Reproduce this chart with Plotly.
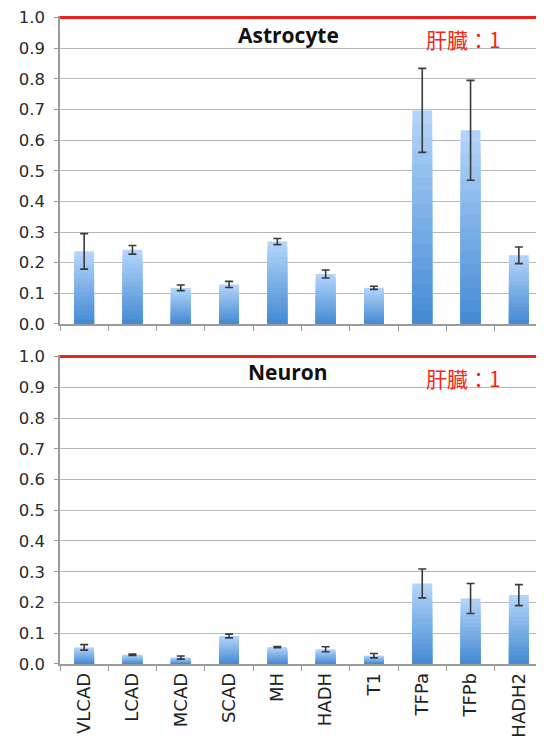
import plotly.graph_objects as go

categories = ["VLCAD", "LCAD", "MCAD", "SCAD", "MH", "HADH", "T1", "TFPa", "TFPb", "HADH2"]
astro_values = [0.237, 0.242, 0.118, 0.129, 0.269, 0.163, 0.118, 0.697, 0.632, 0.224]
astro_errors = [0.058, 0.014, 0.009, 0.010, 0.010, 0.013, 0.005, 0.137, 0.163, 0.027]
neuron_values = [0.054, 0.030, 0.021, 0.091, 0.055, 0.048, 0.027, 0.262, 0.213, 0.224]
neuron_errors = [0.009, 0.002, 0.005, 0.006, 0.002, 0.008, 0.007, 0.047, 0.049, 0.034]
reference_level = 1.0
yticks = [0.0, 0.1, 0.2, 0.3, 0.4, 0.5, 0.6, 0.7, 0.8, 0.9, 1.0]

fig = go.Figure()

N = 16
top_rgb = (178, 212, 250)
bot_rgb = (70, 140, 212)

def add_panel(values, errors, xa, ya):
    for k in range(N):
        frac = 1 - k / N
        t = k / (N - 1)
        c = tuple(int(round(top_rgb[i] + (bot_rgb[i] - top_rgb[i]) * t)) for i in range(3))
        fig.add_trace(go.Bar(
            x=categories, y=[v * frac for v in values],
            marker=dict(color="rgb(%d,%d,%d)" % c, line=dict(width=0)),
            width=0.41, xaxis=xa, yaxis=ya, showlegend=False, hoverinfo="skip"))
    fig.add_trace(go.Bar(
        x=categories, y=values, width=0.41,
        marker=dict(color="rgba(0,0,0,0)", line=dict(width=0)),
        error_y=dict(type="data", array=errors, color="#3a3a3a", thickness=1.6, width=4),
        xaxis=xa, yaxis=ya, showlegend=False))

add_panel(astro_values, astro_errors, "x", "y")
add_panel(neuron_values, neuron_errors, "x2", "y2")

axis_font = dict(family="DejaVu Sans, sans-serif", size=16.5, color="#2a2a2a")
common_y = dict(range=[0, 1.005], tickvals=yticks, ticktext=["%.1f" % v for v in yticks],
                showgrid=True, gridcolor="#b8b8b8", gridwidth=1, zeroline=False,
                showline=True, linecolor="#9a9a9a", linewidth=1.5, automargin=False,
                ticks="outside", ticklen=4, tickcolor="#9a9a9a", tickfont=axis_font,
                ticklabelstandoff=6, ticklabeloverflow="allow")
common_x = dict(type="category", showline=True, linecolor="#9a9a9a", linewidth=1.5,
                ticks="outside", ticklen=5, tickcolor="#9a9a9a", tickson="boundaries",
                showgrid=False, range=[-0.5, 9.5], automargin=False)

red_line = dict(color="#e8261c", width=3)

fig.update_layout(
    width=536, height=734,
    margin=dict(l=52, r=1, t=8, b=78),
    paper_bgcolor="white", plot_bgcolor="white",
    barmode="overlay",
    xaxis=dict(common_x, anchor="y", domain=[0, 1], showticklabels=False),
    yaxis=dict(common_y, domain=[0.5247, 1.0], anchor="x"),
    xaxis2=dict(common_x, anchor="y2", domain=[0, 1], showticklabels=True, tickangle=-90,
                tickfont=dict(family="DejaVu Sans, sans-serif", size=18, color="#222222")),
    yaxis2=dict(common_y, domain=[0.0, 0.4769], anchor="x2"),
    annotations=[
        dict(text="<b>Astrocyte</b>", xref="paper", yref="paper", x=0.473, y=0.9707,
             xanchor="center", yanchor="middle",
             showarrow=False, font=dict(family="Open Sans, sans-serif", size=21, color="#111111")),
        dict(text="肝臓：1", xref="paper", yref="paper", x=0.836, y=0.9645,
             xanchor="center", yanchor="middle",
             showarrow=False, font=dict(family="Noto Sans CJK JP, sans-serif", size=21, color="#f0281c")),
        dict(text="<b>Neuron</b>", xref="paper", yref="paper", x=0.473, y=0.4506,
             xanchor="center", yanchor="middle",
             showarrow=False, font=dict(family="Open Sans, sans-serif", size=21, color="#111111")),
        dict(text="肝臓：1", xref="paper", yref="paper", x=0.836, y=0.4414,
             xanchor="center", yanchor="middle",
             showarrow=False, font=dict(family="Noto Sans CJK JP, sans-serif", size=21, color="#f0281c")),
    ],
    shapes=[
        dict(type="line", xref="x domain", yref="y domain", x0=1, x1=1, y0=0, y1=1,
             line=dict(color="#b0b0b0", width=1.5)),
        dict(type="line", xref="x domain", yref="y", x0=0, x1=1,
             y0=reference_level, y1=reference_level, line=red_line),
        dict(type="line", xref="x2 domain", yref="y2", x0=0, x1=1,
             y0=reference_level, y1=reference_level, line=red_line),
    ],
)

fig.write_html("out.html")
